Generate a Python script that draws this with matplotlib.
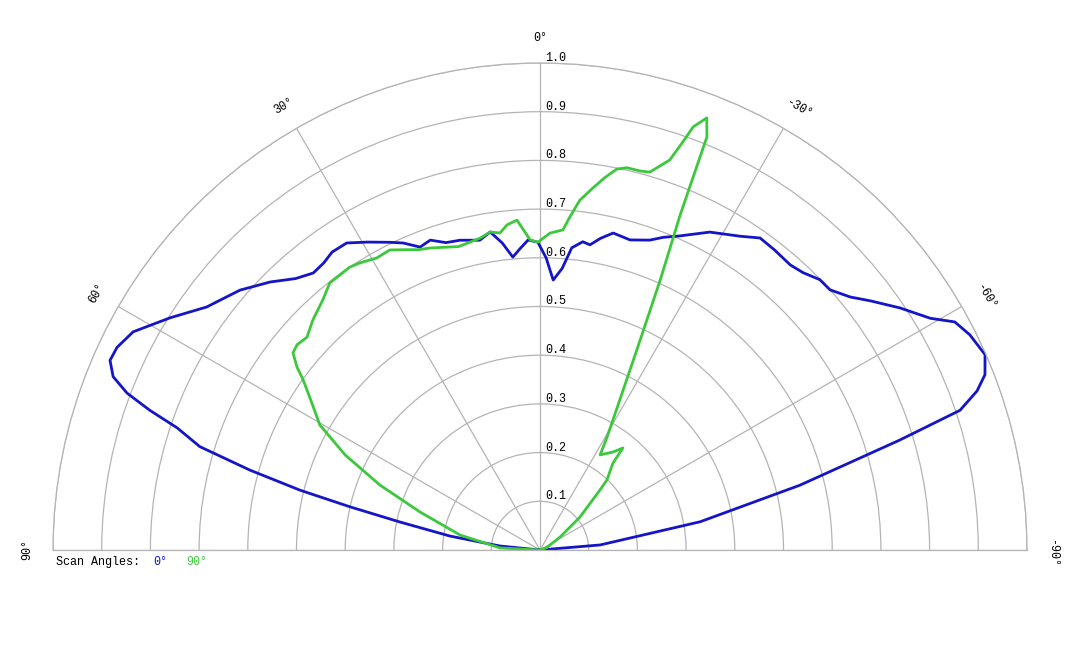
import numpy as np
import matplotlib
matplotlib.use('Agg')
import matplotlib.pyplot as plt

plt.rcParams['font.family'] = ['Liberation Mono', 'DejaVu Sans Mono']

# scan angle 0 deg (blue), angle in degrees, relative intensity
blue_ang = [-90, -85.2, -80, -76, -73, -71.6, -70, -68.5, -66.3, -63.4, -61.2, -59.3,
            -56.1, -53, -50.8, -48.1, -46, -43.5, -41.3, -38, -35.2, -32.5, -28.1,
            -24, -21.5, -19.5, -16.2, -13, -11, -9.3, -7.9, -6, -4.5, -2.8, -1.2,
            0.4, 2.2, 3.8, 5.3, 7, 8.9, 11, 14.5, 17, 19.5, 21.6, 24, 26, 29.3,
            32.2, 34.9, 37, 39.3, 42, 45.2, 49.1, 51.5, 53.9, 57.9, 61.8, 64.4,
            66.2, 67.9, 69.2, 70.3, 71.4, 73.1, 74.6, 76, 77.2, 78.7, 81.2, 84.3, 90]
blue_r = [0, 0.124, 0.334, 0.55, 0.773, 0.909, 0.955, 0.982, 0.998, 0.987, 0.972, 0.932,
          0.891, 0.85, 0.822, 0.8, 0.799, 0.785, 0.779, 0.782, 0.784, 0.764, 0.74,
          0.706, 0.69, 0.675, 0.663, 0.668, 0.652, 0.635, 0.639, 0.624, 0.58, 0.555, 0.6,
          0.632, 0.637, 0.62, 0.604, 0.635, 0.661, 0.648, 0.657, 0.66, 0.675, 0.669, 0.69,
          0.703, 0.725, 0.745, 0.746, 0.738, 0.735, 0.75, 0.781, 0.815, 0.83, 0.847,
          0.897, 0.948, 0.963, 0.965, 0.946, 0.907, 0.851, 0.786, 0.73, 0.618, 0.508,
          0.4, 0.293, 0.187, 0.083, 0]

# scan angle 90 deg (green)
green_ang = [-90, -70, -57, -50.5, -45, -43.7, -40, -39.1, -36.7, -32.3, -30.7, -29.3,
             -25.5, -24, -22.7, -22, -21.1, -19.9, -19.3, -18.4, -16.2, -14.8, -12.8,
             -11.4, -9.8, -8.3, -6.5, -5.1, -4.1, -1.8, 0.4, 1.8, 4.0, 5.8, 7.2, 8.9,
             10.9, 15, 20, 22, 24, 26.6, 29.2, 32.1, 33.9, 38.2, 41, 44.6, 47.6, 49.8,
             51.4, 53, 54.3, 57, 60.4, 64, 67.9, 72.4, 79.4, 87, 90]
green_r = [0, 0.015, 0.05, 0.106, 0.174, 0.199, 0.233, 0.27, 0.251, 0.231, 0.27, 0.306,
           0.478, 0.607, 0.746, 0.915, 0.951, 0.924, 0.888, 0.844, 0.808, 0.805, 0.805,
           0.798, 0.775, 0.751, 0.723, 0.686, 0.659, 0.651, 0.632, 0.637, 0.679, 0.671,
           0.656, 0.661, 0.652, 0.645, 0.66, 0.665, 0.675, 0.689, 0.687, 0.696, 0.7, 0.698,
           0.68, 0.664, 0.648, 0.653, 0.649, 0.625, 0.599, 0.56, 0.52, 0.445, 0.355,
           0.259, 0.167, 0.082, 0]

r_ticks = [0.1, 0.2, 0.3, 0.4, 0.5, 0.6, 0.7, 0.8, 0.9, 1.0]
theta_ticks = [-90, -60, -30, 0, 30, 60, 90]

blue = '#1414c8'
green = '#3cc83c'
grid_col = '#b4b4b4'

fig = plt.figure(figsize=(10.8, 6.48), dpi=100)
# polar axes box must be square; the half disc sits in its middle
ax = fig.add_axes([53 / 1080, (648 - 793.5) / 648, 974 / 1080, 974 / 648], projection='polar')
ax.set_theta_zero_location('N')
ax.set_thetamin(-90)
ax.set_thetamax(90)
ax.set_ylim(0, 1.0)

ax.plot(np.deg2rad(blue_ang), blue_r, color=blue, lw=2)
ax.plot(np.deg2rad(green_ang), green_r, color=green, lw=2)

ax.set_rticks(r_ticks)
ax.set_yticklabels([])
ax.set_thetagrids(theta_ticks, labels=[''] * len(theta_ticks))
ax.grid(True, color=grid_col, lw=0.9)
for sp in ax.spines.values():
    sp.set_color(grid_col)
    sp.set_linewidth(0.9)
ax.tick_params(length=0)

for r in r_ticks:
    ax.annotate(f'{r:.1f}', xy=(0, r), xytext=(3.6, 1.5), textcoords='offset points',
                ha='left', va='baseline', fontsize=8.5, annotation_clip=False)

for a in theta_ticks:
    # minus sign hangs out in front of the centred number
    shift = 2.5 if a < 0 else 0
    ax.annotate(f'{a}°', xy=(np.deg2rad(a), 1.052),
                xytext=(shift * np.cos(np.deg2rad(a)), shift * np.sin(np.deg2rad(a))),
                textcoords='offset points', rotation=a, rotation_mode='anchor',
                ha='center', va='center', fontsize=8.5, annotation_clip=False)

fig.text(56 / 1080, 1 - 562 / 648, 'Scan Angles:', ha='left', va='center', fontsize=8.5)
fig.text(153 / 1080, 1 - 562 / 648, '0°', ha='left', va='center', fontsize=8.5, color=blue)
fig.text(186 / 1080, 1 - 562 / 648, '90°', ha='left', va='center', fontsize=8.5, color=green)

fig.savefig('out.png', dpi=100)
